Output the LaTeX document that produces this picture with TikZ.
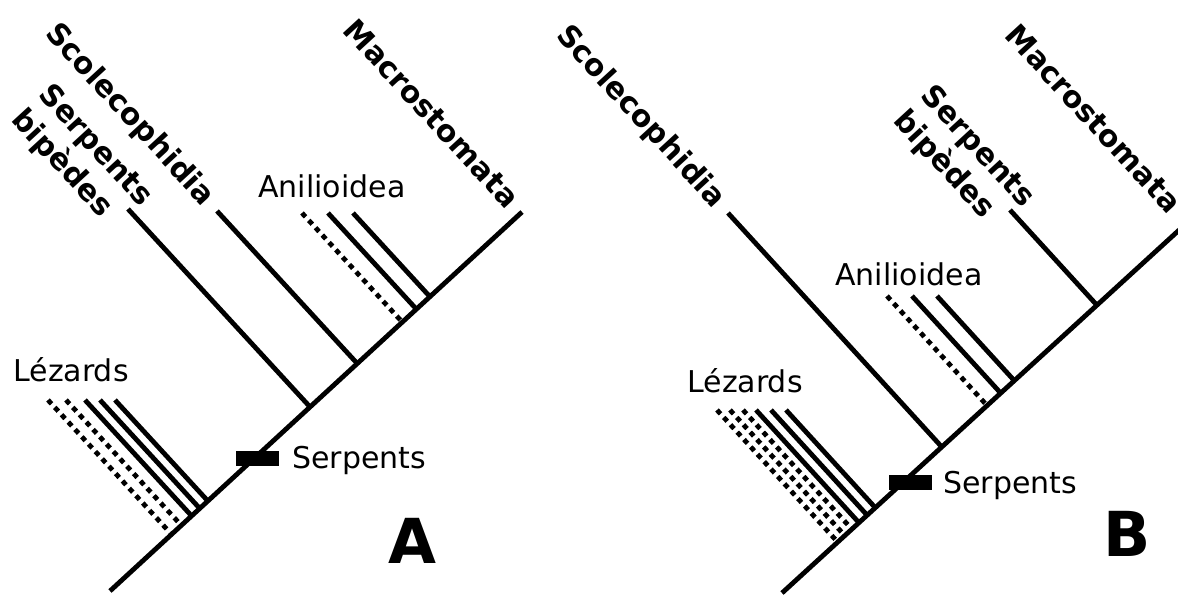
\documentclass[tikz,border=0pt]{standalone}
\usepackage{fontspec}
\setmainfont{DejaVu Sans}
\usetikzlibrary{calc}
\begin{document}
\begin{tikzpicture}[x=0.5pt, y=-0.5pt,
    br/.style={line width=2.4pt},
    dots/.style={line width=2.4pt, dash pattern=on 2.6pt off 2.4pt},
    clade/.style={font=\fontsize{15}{18.5}\selectfont\bfseries, inner sep=0pt, rotate=-47.4, anchor=east},
    txt/.style={font=\fontsize{15}{18}\selectfont, inner sep=0pt, anchor=base west},
    bar/.style={fill=black, minimum width=21.5pt, minimum height=7.5pt, inner sep=0pt},
    letter/.style={font=\fontsize{31}{36}\selectfont\bfseries, inner sep=0pt}]
          \useasboundingbox (0,0) rectangle (1178,595);
          \clip (0,0) rectangle (1178,595);

          % A
          \coordinate (tA0) at (110,591);
          \coordinate (tA1) at (522,212);
          \coordinate (lzA1) at (48,400);
          \coordinate (lzA2) at (66,400);
          \coordinate (lzA3) at (85,400);
          \coordinate (lzA4) at (100,400);
          \coordinate (lzA5) at (115,400);
          \coordinate (sbA) at (128,209);
          \coordinate (scA) at (217,211);
          \coordinate (anA1) at (302,213);
          \coordinate (anA2) at (328,213);
          \coordinate (anA3) at (353,213);

          \node[clade] (nScA) at (209,202) {Scolecophidia};
          \node[clade, align=left] (nSbA) at (133,215) {Serpents\\bipèdes};
          \node[clade] (nMaA) at (514,203) {Macrostomata};
          \node[txt] (nLzA) at (13,381) {Lézards};
          \node[txt] (nAnA) at (258,197) {Anilioidea};
          \node[txt] (nSeA) at (292,468) {Serpents};
          \node[letter] (nA) at (412,541) {A};

          \draw[br] (tA0) -- (tA1);
          \draw[dots] (lzA1) -- ($(tA0)!(lzA1)!(tA1)$);
          \draw[dots] (lzA2) -- ($(tA0)!(lzA2)!(tA1)$);
          \draw[br] (lzA3) -- ($(tA0)!(lzA3)!(tA1)$);
          \draw[br] (lzA4) -- ($(tA0)!(lzA4)!(tA1)$);
          \draw[br] (lzA5) -- ($(tA0)!(lzA5)!(tA1)$);
          \draw[br] (sbA) -- ($(tA0)!(sbA)!(tA1)$);
          \draw[br] (scA) -- ($(tA0)!(scA)!(tA1)$);
          \draw[dots] (anA1) -- ($(tA0)!(anA1)!(tA1)$);
          \draw[br] (anA2) -- ($(tA0)!(anA2)!(tA1)$);
          \draw[br] (anA3) -- ($(tA0)!(anA3)!(tA1)$);
          \node[bar] (barA) at (257,458) {};

          % B
          \coordinate (tB0) at (782,593);
          \coordinate (tB1) at (1189,221);
          \coordinate (lzB1) at (717,410);
          \coordinate (lzB2) at (730,410);
          \coordinate (lzB3) at (743,410);
          \coordinate (lzB4) at (756,410);
          \coordinate (lzB5) at (771,410);
          \coordinate (lzB6) at (786,410);
          \coordinate (scB) at (728,213);
          \coordinate (anB1) at (887,296);
          \coordinate (anB2) at (912,296);
          \coordinate (anB3) at (937,296);
          \coordinate (sbB) at (1010,210);

          \node[clade] (nScB) at (720,204) {Scolecophidia};
          \node[clade, align=left] (nSbB) at (1015,216) {Serpents\\bipèdes};
          \node[clade] (nMaB) at (1176,208) {Macrostomata};
          \node[txt] (nLzB) at (687,392) {Lézards};
          \node[txt] (nAnB) at (835,285) {Anilioidea};
          \node[txt] (nSeB) at (943,493) {Serpents};
          \node[letter] (nB) at (1127,534) {B};

          \draw[br] (tB0) -- (tB1);
          \draw[dots] (lzB1) -- ($(tB0)!(lzB1)!(tB1)$);
          \draw[dots] (lzB2) -- ($(tB0)!(lzB2)!(tB1)$);
          \draw[dots] (lzB3) -- ($(tB0)!(lzB3)!(tB1)$);
          \draw[br] (lzB4) -- ($(tB0)!(lzB4)!(tB1)$);
          \draw[br] (lzB5) -- ($(tB0)!(lzB5)!(tB1)$);
          \draw[br] (lzB6) -- ($(tB0)!(lzB6)!(tB1)$);
          \draw[br] (scB) -- ($(tB0)!(scB)!(tB1)$);
          \draw[dots] (anB1) -- ($(tB0)!(anB1)!(tB1)$);
          \draw[br] (anB2) -- ($(tB0)!(anB2)!(tB1)$);
          \draw[br] (anB3) -- ($(tB0)!(anB3)!(tB1)$);
          \draw[br] (sbB) -- ($(tB0)!(sbB)!(tB1)$);
          \node[bar] (barB) at (910,482) {};
        \end{tikzpicture}
\end{document}
